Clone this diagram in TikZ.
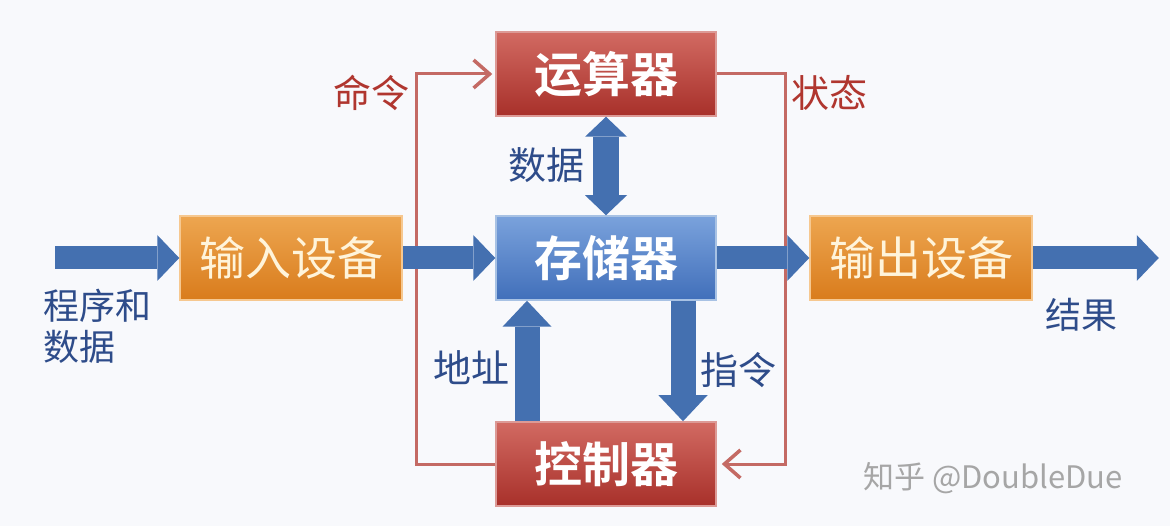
\documentclass[tikz,border=0pt]{standalone}
\usepackage{fontspec}
\newfontfamily\cjk{Noto Sans CJK SC}
\newfontfamily\cjkb{Noto Sans CJK SC Bold}
\usetikzlibrary{arrows.meta,calc}
\definecolor{bg}{HTML}{F8F9FC}
\definecolor{redtop}{HTML}{D26A62}
\definecolor{redmid}{HTML}{B83C34}
\definecolor{redbot}{HTML}{A8302A}
\definecolor{redborder}{HTML}{DC9A96}
\definecolor{bluetop}{HTML}{7AA2DC}
\definecolor{bluebot}{HTML}{416FBA}
\definecolor{blueborder}{HTML}{A8C2E4}
\definecolor{orgtop}{HTML}{EDA650}
\definecolor{orgbot}{HTML}{D97C1C}
\definecolor{orgborder}{HTML}{F6C890}
\definecolor{arrowblue}{HTML}{4470B0}
\definecolor{redline}{HTML}{C46A64}
\definecolor{redtext}{HTML}{B0362F}
\definecolor{bluetext}{HTML}{2E4C8A}
\definecolor{cream}{HTML}{FFF4DA}
\begin{document}
\begin{tikzpicture}[x=1pt,y=-1pt,
  box/.style={minimum width=220pt,minimum height=84pt,inner sep=0pt,line width=1.5pt},
  redbox/.style={box,draw=redborder,top color=redtop,middle color=redmid,bottom color=redbot,text=white,font=\cjkb\fontsize{48}{52}\selectfont},
  bluebox/.style={box,draw=blueborder,top color=bluetop,bottom color=bluebot,text=white,font=\cjkb\fontsize{48}{52}\selectfont},
  orgbox/.style={box,minimum width=222pt,draw=orgborder,top color=orgtop,bottom color=orgbot,text=cream,font=\cjk\fontsize{46}{50}\selectfont},
  bigarrow/.style={draw=arrowblue,line width=23pt,-{Triangle[length=22pt,width=46pt,line width=0pt]}},
  vertarrow/.style={draw=arrowblue,line width=25pt,-{Triangle[length=26pt,width=49pt,line width=0pt]}},
  dblarrow/.style={draw=arrowblue,line width=26pt,{Triangle[length=20pt,width=42pt,line width=0pt]}-{Triangle[length=20pt,width=42pt,line width=0pt]}},
  ctlline/.style={draw=redline,line width=3pt,-{Straight Barb[length=16pt,width=28pt,line width=3.5pt]}},
  redlab/.style={text=redtext,font=\cjk\fontsize{38}{42}\selectfont},
  bluelab/.style={text=bluetext,font=\cjk\fontsize{38}{42}\selectfont},
]
\fill[bg] (0,0) rectangle (1170,526);
\useasboundingbox (0,0) rectangle (1170,526);

\node[redbox]  (alu)  at (606,74)  {运算器};
\node[bluebox] (mem)  at (606,258) {存储器};
\node[redbox]  (ctrl) at (606,464) {控制器};
\node[orgbox]  (inp)  at (291,258) {输入设备};
\node[orgbox]  (outp) at (921,258) {输出设备};

\coordinate (src) at (55,258);
\coordinate (dst) at ($(outp.east)+(126,0)$);

% control lines
\draw[ctlline,shorten >=3pt,line join=miter] (ctrl.west) -- ++(-79,0) |- (alu.west);
\draw[ctlline,shorten >=5pt,line join=miter] (alu.east) -- ++(69,0) |- (ctrl.east);

% data arrows
\draw[bigarrow] (src) -- (inp.west);
\draw[bigarrow] (inp.east) -- (mem.west);
\draw[bigarrow] (mem.east) -- (outp.west);
\draw[bigarrow] (outp.east) -- (dst);
\draw[dblarrow] (alu.south) -- (mem.north);
\draw[vertarrow] ([xshift=-79pt]ctrl.north) -- ([xshift=-79pt]mem.south);
\draw[vertarrow] ([xshift=77pt]mem.south) -- ([xshift=77pt]ctrl.north);

% labels
\node[redlab]  (lcmd)  at (371,93)  {命令};
\node[redlab]  (lstat) at (829,93)  {状态};
\node[bluelab] (ldata) at (546,165) {数据};
\node[bluelab] (laddr) at (471,368) {地址};
\node[bluelab] (linst) at (738,370) {指令};
\node[bluelab,font=\cjk\fontsize{36}{41}\selectfont,align=left,anchor=west,inner sep=0pt] (lprog) at (43,326) {程序和\\数据};
\node[bluelab,font=\cjk\fontsize{36}{40}\selectfont] (lres) at (1081,315) {结果};

\node[text=black!35,font=\cjk\fontsize{31}{36}\selectfont] (wm) at (993,478) {知乎 @DoubleDue};
\end{tikzpicture}
\end{document}
